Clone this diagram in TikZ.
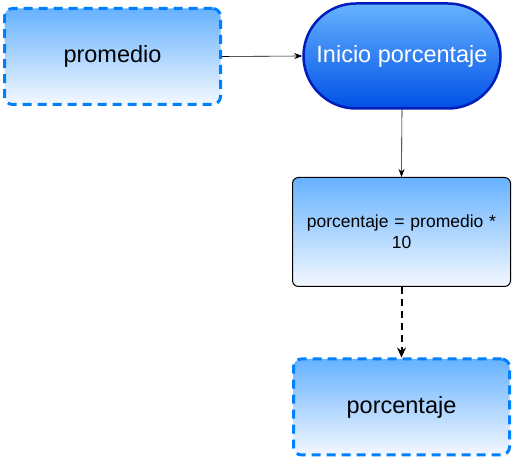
\documentclass[tikz,border=0pt]{standalone}
\usepackage{fontspec}
\setmainfont{Liberation Sans}
\usetikzlibrary{arrows.meta,shapes.misc}
\definecolor{lblue}{HTML}{66B2FF}
\definecolor{wblue}{HTML}{F4F8FF}
\definecolor{dblue}{HTML}{0050E6}
\definecolor{bdblue}{HTML}{001DBC}
\definecolor{dashblue}{HTML}{007FFF}
\begin{document}
\begin{tikzpicture}[x=1pt,y=1pt,
  iobox/.style={draw=dashblue, line width=3pt, dash pattern=on 9pt off 6pt, rounded corners=8pt,
    top color=lblue, bottom color=wblue, minimum width=216pt, minimum height=96pt,
    font=\fontsize{23.5}{28}\selectfont, inner sep=0pt},
  startbox/.style={draw=bdblue, line width=2.5pt, rounded rectangle,
    top color=lblue, bottom color=dblue, minimum width=197pt, minimum height=105pt,
    text=white, font=\fontsize{23.5}{28}\selectfont, inner sep=0pt},
  procbox/.style={draw=black, line width=1pt, rounded corners=6pt,
    top color=lblue, bottom color=wblue, minimum width=218pt, minimum height=109pt,
    text width=210pt, align=center, font=\fontsize{17.5}{21}\selectfont, inner sep=0pt},
  link/.style={-{Stealth[length=8pt,width=6pt]}, line width=0.6pt},
  dlink/.style={-{Stealth[length=10pt,width=9pt]}, line width=2pt, dash pattern=on 7pt off 5pt}
]
\useasboundingbox (0,0) rectangle (514,460);
\node[iobox] (prom) at (112.5,403.5) {promedio};
\node[startbox] (ini) at (402,404) {Inicio porcentaje};
\node[procbox] (calc) at (401.5,228) {porcentaje = promedio *\\10};
\node[iobox] (porc) at (401.5,53) {porcentaje};
\draw[link] (prom.east) -- (ini.west);
\draw[link] (ini.south) -- (calc.north);
\draw[dlink] (calc.south) -- (porc.north);
\end{tikzpicture}
\end{document}
